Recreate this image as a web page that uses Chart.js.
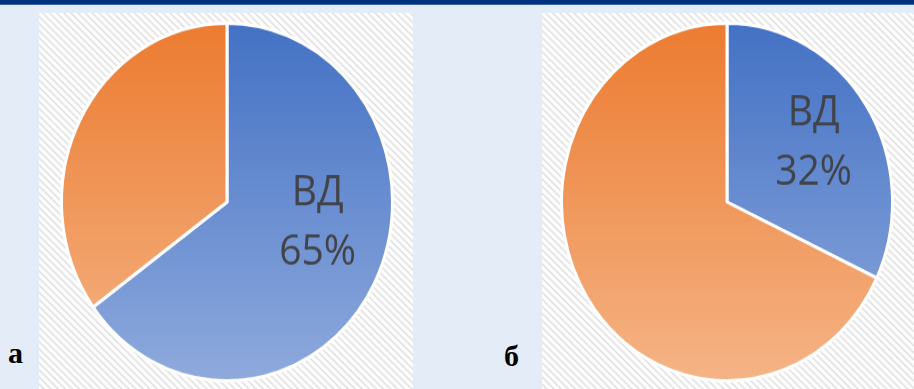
<!DOCTYPE html>
<html>
<head>
<meta charset="utf-8">
<script src="https://cdn.jsdelivr.net/npm/chart.js@4"></script>
<style>
  html, body { margin: 0; padding: 0; }
  body { width: 914px; height: 389px; background: #e4ecf7; position: relative; overflow: hidden; }
  .topbar { position: absolute; left: 0; top: 0; width: 914px; height: 4px; background: #00327f; border-bottom: 1px solid #3a64a8; }
  .panel { position: absolute; top: 13px; height: 376px;
    background: repeating-linear-gradient(45deg, #fdfdfd 0px, #fdfdfd 2px, #e0e0e0 3.5px, #fdfdfd 5px); }
  .pie { position: absolute; width: 334px; height: 334px; transform: scaleY(1.08); transform-origin: 50% 50%; }
  .tag { position: absolute; font-family: "Liberation Serif", serif; font-weight: bold; font-size: 30px; color: #000; line-height: 1; }
</style>
</head>
<body>
<div class="topbar"></div>
<div class="panel" style="left:39px; width:374px;"></div>
<div class="panel" style="left:542px; width:372px;"></div>
<div class="pie" style="left:60px; top:35px;"><canvas id="pieA" width="334" height="334"></canvas></div>
<div class="pie" style="left:560px; top:35px;"><canvas id="pieB" width="334" height="334"></canvas></div>
<div class="tag" style="left:8px; top:338px;">а</div>
<div class="tag" style="left:504px; top:341px;">б</div>
<script>
// данные
const categories = ['ВД', 'другое'];
const valuesA = [65, 35];
const valuesB = [32, 68];
const labelShiftA = -15; // сдвиг подписи по углу, градусы
const labelShiftB = 0;

// цвета секторов: сверху темнее, снизу светлее
const gradTop = ['#4371c4', '#ec7b30'];
const gradBottom = ['#8faadd', '#f5b486'];

function gradFill(ctx) {
    const i = ctx.dataIndex;
    const chart = ctx.chart;
    const area = chart.chartArea;
    if (!area || i === undefined) return gradTop[i || 0];
    const g = chart.ctx.createLinearGradient(0, area.top, 0, area.bottom);
    g.addColorStop(0, gradTop[i]);
    g.addColorStop(1, gradBottom[i]);
    return g;
}

// подпись "ВД / 65%" внутри синего сектора
const sliceLabel = {
    id: 'sliceLabel',
    afterDatasetsDraw(chart, args, opts) {
        const arc = chart.getDatasetMeta(0).data[0];
        const p = arc.getProps(['x', 'y', 'startAngle', 'endAngle', 'outerRadius']);
        const mid = (p.startAngle + p.endAngle) / 2 + opts.shift * Math.PI / 180;
        const r = p.outerRadius * opts.dist;
        const cx = p.x + Math.cos(mid) * r;
        const cy = p.y + Math.sin(mid) * r;
        const ds = chart.data.datasets[0].data;
        const total = ds.reduce((a, b) => a + b, 0);
        const ctx = chart.ctx;
        ctx.save();
        ctx.fillStyle = '#404349';
        ctx.font = '39px "Open Sans", "Noto Sans", sans-serif';
        ctx.textAlign = 'center';
        ctx.textBaseline = 'middle';
        ctx.fillText(chart.data.labels[0], cx, cy - 27);
        ctx.fillText(Math.round(ds[0] / total * 100) + '%', cx, cy + 28);
        ctx.restore();
    }
};

function makePie(id, values, shift, dist) {
    const c = document.getElementById(id).getContext('2d');
    return new Chart(c, {
        type: 'pie',
        data: {
            labels: categories,
            datasets: [{
                data: values,
                backgroundColor: gradFill,
                borderColor: '#ffffff',
                borderWidth: 3
            }]
        },
        options: {
            responsive: false,
            animation: false,
            layout: { padding: 0 },
            plugins: {
                legend: { display: false },
                tooltip: { enabled: false },
                sliceLabel: { shift: shift, dist: dist }
            }
        },
        plugins: [sliceLabel]
    });
}

makePie('pieA', valuesA, labelShiftA, 0.56);
makePie('pieB', valuesB, labelShiftB, 0.62);
</script>
</body>
</html>
